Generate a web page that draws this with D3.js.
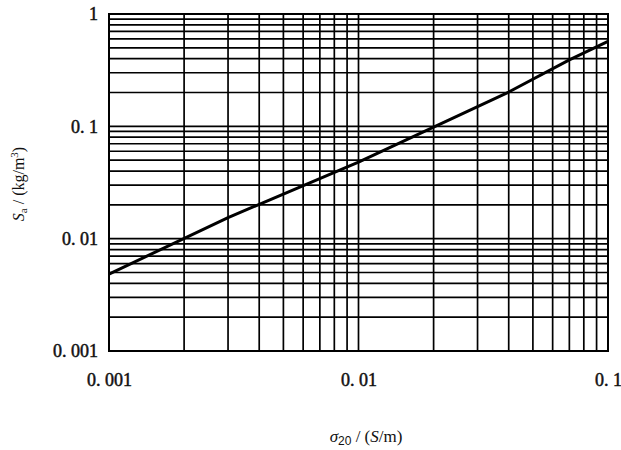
<!DOCTYPE html>
<html>
<head>
<meta charset="utf-8">
<script src="https://cdn.jsdelivr.net/npm/d3@7"></script>
<style>
  body { margin: 0; background: #fff; }
  text { font-family: "Liberation Serif", "DejaVu Serif", serif; fill: #111; }
</style>
</head>
<body>
<svg class="chart" width="621" height="450"></svg>
<script>
// values
var sigma = [0.001, 0.003, 0.01, 0.04, 0.07, 0.1];
var sa = [0.00484, 0.0154, 0.048, 0.202, 0.39, 0.57];
var xTickVals = [0.001, 0.01, 0.1];
var xTickText = ["0. 001", "0. 01", "0. 1"];
var yTickVals = [0.001, 0.01, 0.1, 1];
var yTickText = ["0. 001", "0. 01", "0. 1", "1"];

var svg = d3.select(".chart"),
    margin = {top: 14, right: 13, bottom: 99, left: 109},
    width = +svg.attr("width") - margin.left - margin.right,
    height = +svg.attr("height") - margin.top - margin.bottom,
    g = svg.append("g").attr("transform", "translate(" + margin.left + "," + margin.top + ")");

var x = d3.scaleLog().domain([0.001, 0.1]).range([0, width]);
var y = d3.scaleLog().domain([0.001, 1]).range([height, 0]);

// grid lines 1..9 in each decade
var xGrid = x.ticks().filter(function(d) { return d > 0.001 && d < 0.1; });
var yGrid = y.ticks().filter(function(d) { return d > 0.001 && d < 1; });

g.selectAll(".vg").data(xGrid).enter().append("line")
    .attr("x1", function(d) { return x(d); })
    .attr("x2", function(d) { return x(d); })
    .attr("y1", 0).attr("y2", height)
    .attr("stroke", "#000").attr("stroke-width", 1.7);

g.selectAll(".hg").data(yGrid).enter().append("line")
    .attr("y1", function(d) { return y(d); })
    .attr("y2", function(d) { return y(d); })
    .attr("x1", 0).attr("x2", width)
    .attr("stroke", "#000").attr("stroke-width", 1.7);

g.append("rect")
    .attr("width", width).attr("height", height)
    .attr("fill", "none").attr("stroke", "#000").attr("stroke-width", 2);

// axes: only labels
var xAxis = g.append("g")
    .attr("transform", "translate(0," + height + ")")
    .call(d3.axisBottom(x).tickValues(xTickVals).tickSize(0).tickPadding(22)
      .tickFormat(function(d, i) { return xTickText[i]; }));
xAxis.select(".domain").remove();
xAxis.selectAll("text").attr("font-size", 18).attr("font-family", "Liberation Serif")
    .attr("fill", "#111").attr("stroke", "#111").attr("stroke-width", 0.5);

var yAxis = g.append("g")
    .call(d3.axisLeft(y).tickValues(yTickVals).tickSize(0).tickPadding(11)
      .tickFormat(function(d, i) { return yTickText[i]; }));
yAxis.select(".domain").remove();
yAxis.selectAll("text").attr("font-size", 18).attr("font-family", "Liberation Serif")
    .attr("fill", "#111").attr("stroke", "#111").attr("stroke-width", 0.5);

var line = d3.line()
    .x(function(d, i) { return x(sigma[i]); })
    .y(function(d) { return y(d); });

g.append("path")
    .datum(sa)
    .attr("fill", "none")
    .attr("stroke", "#000")
    .attr("stroke-width", 3)
    .attr("stroke-linejoin", "round")
    .attr("d", line);

// axis titles
var yt = svg.append("text")
    .attr("transform", "translate(24,184) rotate(-90)")
    .attr("text-anchor", "middle")
    .attr("font-size", 16);
yt.append("tspan").attr("font-style", "italic").text("S");
yt.append("tspan").attr("font-size", 11).attr("dy", 3).text("a");
yt.append("tspan").attr("dy", -3).text(" / (kg/m");
yt.append("tspan").attr("font-size", 11).attr("dy", -6).text("3");
yt.append("tspan").attr("dy", 6).text(")");

var xt = svg.append("text")
    .attr("x", 366).attr("y", 442)
    .attr("text-anchor", "middle")
    .attr("font-size", 17);
xt.append("tspan").attr("font-style", "italic").text("σ");
xt.append("tspan").attr("font-size", 12).attr("dy", 3)
    .attr("font-family", "Liberation Sans").text("20");
xt.append("tspan").attr("dy", -3).text(" / (");
xt.append("tspan").attr("font-style", "italic").text("S");
xt.append("tspan").text("/m)");
</script>
</body>
</html>
